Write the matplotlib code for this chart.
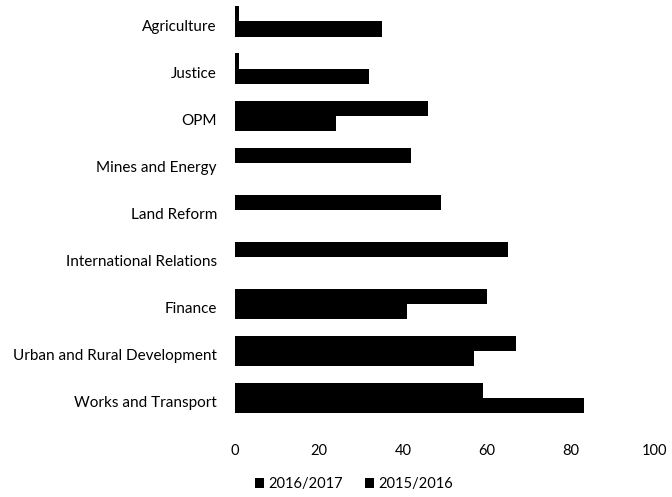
import matplotlib.pyplot as plt
from matplotlib.transforms import ScaledTranslation
import numpy as np

# categories listed bottom to top, like the source spreadsheet
categories = ['Works and Transport', 'Urban and Rural Development', 'Finance',
              'International Relations', 'Land Reform', 'Mines and Energy',
              'OPM', 'Justice', 'Agriculture']
fy_2016_17 = [83, 57, 41, np.nan, np.nan, np.nan, 24, 32, 35]
fy_2015_16 = [59, 67, 60, 65, 49, 42, 46, 1, 1]

xticks = [0, 20, 40, 60, 80, 100]

plt.rcParams['font.family'] = ['Lato', 'DejaVu Sans']
plt.rcParams['font.size'] = 10.5

fig = plt.figure(figsize=(6.72, 4.97), dpi=100)
ax = fig.add_axes([0.3497, 0.152, 0.625, 0.8427])

y = np.arange(len(categories))
h = 0.32
ax.barh(y - h / 2, fy_2016_17, height=h, color='black', label='2016/2017')
ax.barh(y + h / 2, fy_2015_16, height=h, color='black', label='2015/2016')

ax.set_yticks(y)
ax.set_yticklabels(categories, fontsize=11)
ax.set_ylim(-0.5, 8.4)
ax.set_xlim(0, 100)
ax.set_xticks(xticks)

ax.tick_params(axis='y', length=0, pad=13)
ax.tick_params(axis='x', length=0, pad=16)
for s in ax.spines.values():
    s.set_visible(False)

# labels sit a few pixels below the bar centres in the original
shift = ScaledTranslation(0, -4 / 100, fig.dpi_scale_trans)
for lbl in ax.get_yticklabels():
    lbl.set_transform(lbl.get_transform() + shift)

fig.legend(loc='center', bbox_to_anchor=(0.527, 0.026), ncol=2, frameon=False,
           handlelength=0.6, handleheight=0.6, handletextpad=0.3, columnspacing=1.5)

plt.savefig('out.png', dpi=100)
